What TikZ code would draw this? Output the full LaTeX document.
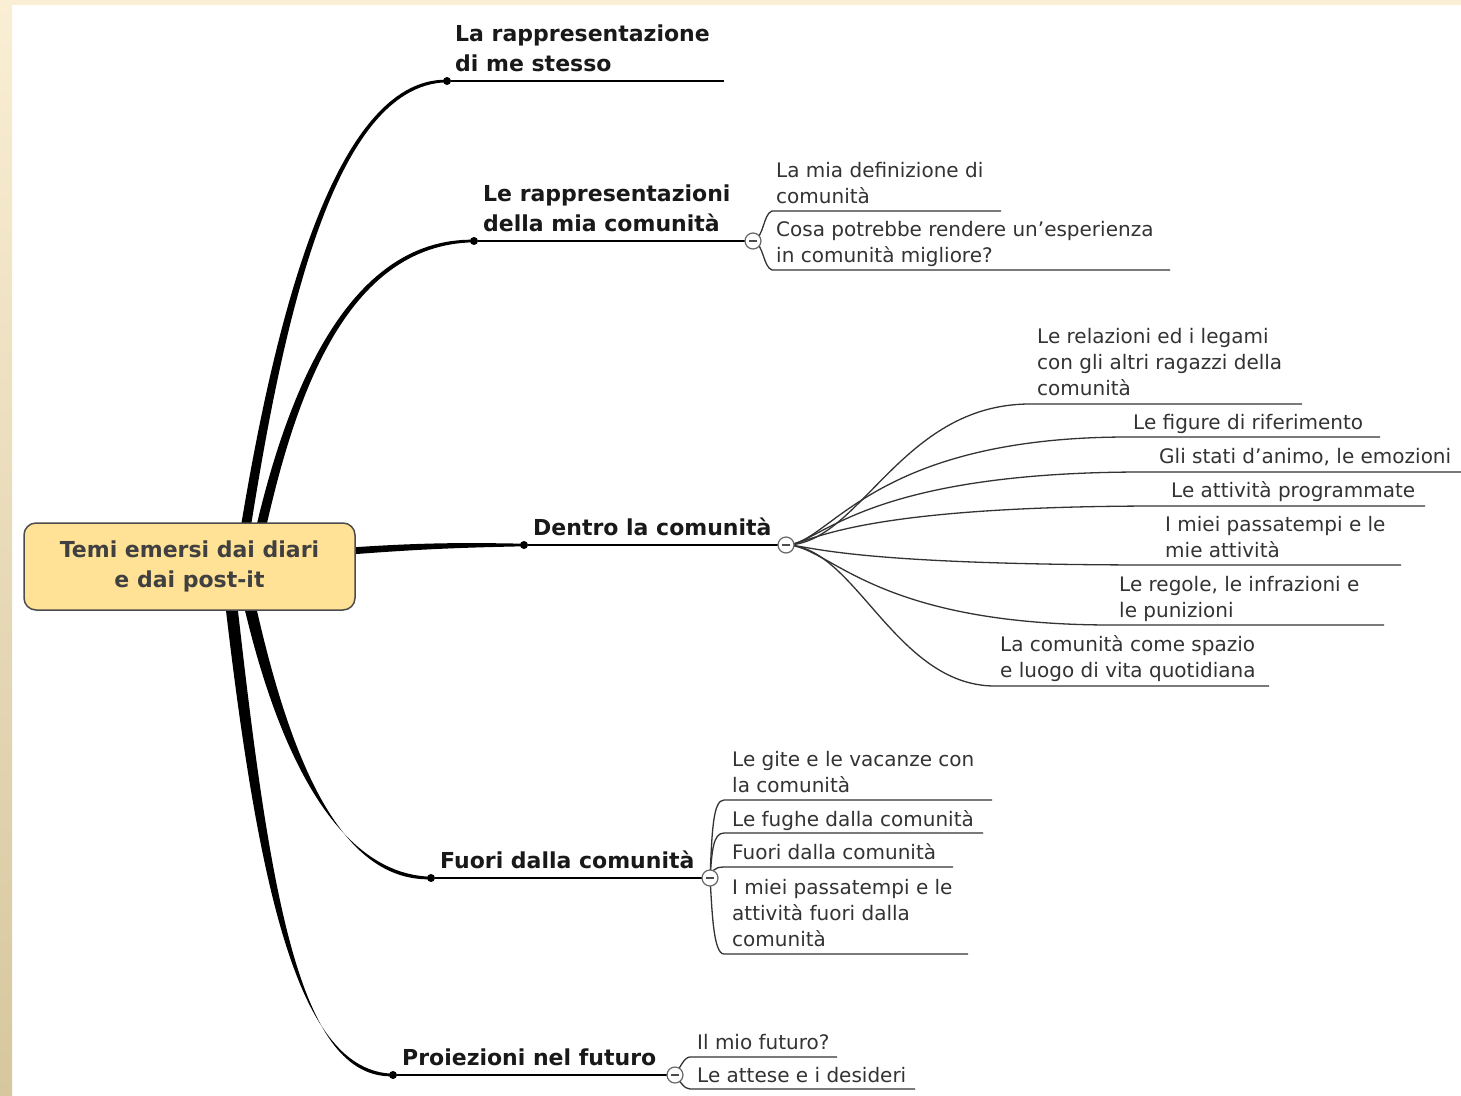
\documentclass[tikz,border=0pt]{standalone}
\usepackage{fontspec}
\setmainfont{DejaVu Sans}
\usetikzlibrary{calc}

\definecolor{paper}{RGB}{250,238,212}
\definecolor{paperdark}{RGB}{214,199,158}
\definecolor{rootfill}{RGB}{255,226,150}
\definecolor{inkgray}{RGB}{51,51,51}

\tikzset{
  root/.style={rectangle, rounded corners=12pt, draw=black!70, line width=1.5pt, fill=rootfill,
    minimum width=331pt, minimum height=87pt, align=center,
    font=\bfseries\fontsize{22}{30}\selectfont, text=black!75},
  topic/.style={anchor=south west, inner sep=0pt, text depth=0pt, align=left,
    font=\bfseries\fontsize{22}{30}\selectfont, text=black!90},
  subtopic/.style={anchor=south west, inner sep=0pt, text depth=0pt, align=left,
    font=\fontsize{20}{26}\selectfont, text=inkgray},
  underline/.style={line width=1.8pt, draw=black},
  twig/.style={line width=1.3pt, draw=inkgray},
  knob/.style={circle, fill=black, inner sep=0pt, minimum size=8pt},
  toggle/.style={circle, draw=black!60, fill=white, line width=1.2pt, inner sep=0pt, minimum size=16pt,
    path picture={\draw[line width=1.2pt, black!70] ([xshift=-4pt]path picture bounding box.center)
      -- ([xshift=4pt]path picture bounding box.center);}},
}

% tapered main branch: start, control 1, control 2, end, half width (x,y) at start
\newcommand{\limb}[6]{%
  \fill ($(#1)+(-#5,-#6)$) .. controls ($(#2)+(-#5*0.9,-#6*0.9)$) and ($(#3)+(0,-#5*0.45-#6*0.45-1)$) .. ($(#4)+(0,-1.3)$)
    -- ($(#4)+(0,1.3)$) .. controls ($(#3)+(0,#5*0.45+#6*0.45+1)$) and ($(#2)+(#5*0.9,#6*0.9)$) .. ($(#1)+(#5,#6)$) -- cycle;}

\begin{document}
\begin{tikzpicture}[x=1pt,y=-1pt]
  \useasboundingbox (0,0) rectangle (1461,1095);
  % page frame
  \fill[white] (0,0) rectangle (1461,1095);
  \shade[top color=paper, bottom color=paperdark] (0,0) rectangle (12,1095);
  \fill[paper] (0,0) rectangle (1461,5);

  % topic knobs
  \node[knob] (k1) at (447,81) {};
  \node[knob] (k2) at (474,241) {};
  \node[knob] (k3) at (524,545) {};
  \node[knob] (k4) at (431,878) {};
  \node[knob] (k5) at (393,1075) {};
  \coordinate (e1) at (724,81);

  % main branches
  \coordinate (s1) at (245,532);
  \coordinate (s2) at (260,532);
  \coordinate (s3) at (350,551);
  \coordinate (s4) at (249,602);
  \coordinate (s5) at (231,602);
  \limb{s1}{276,340}{330,81}{k1}{5}{0}
  \limb{s2}{290,400}{345,241}{k2}{5}{0}
  \limb{s3}{420,546}{460,545}{k3}{0}{3.5}
  \limb{s4}{285,760}{340,878}{k4}{6}{0}
  \limb{s5}{265,900}{300,1075}{k5}{6}{0}

  \node[root] (root) at (189.5,566.5) {Temi emersi dai diari\\e dai post-it};

  % topic underlines
  \draw[underline] (k1) -- (e1);
  \draw[underline] (k2) -- (753,241) coordinate (g2c);
  \draw[underline] (k3) -- (786,545) coordinate (g3c);
  \draw[underline] (k4) -- (710,878) coordinate (g4c);
  \draw[underline] (k5) -- (675,1075) coordinate (g5c);

  % children of topic 2
  \coordinate (a1s) at (772,211); \coordinate (a1e) at (1001,211);
  \coordinate (a2s) at (772,270); \coordinate (a2e) at (1170,270);
  \draw[twig] (g2c) .. controls (764,238) and (763,214) .. (a1s) -- (a1e);
  \draw[twig] (g2c) .. controls (764,244) and (763,267) .. (a2s) -- (a2e);

  % children of topic 3
  \coordinate (b1s) at (1030,404); \coordinate (b1e) at (1302,404);
  \coordinate (b2s) at (1128,437); \coordinate (b2e) at (1380,437);
  \coordinate (b3s) at (1143,472); \coordinate (b3e) at (1461,472);
  \coordinate (b4s) at (1160,506); \coordinate (b4e) at (1425,506);
  \coordinate (b5s) at (1158,565); \coordinate (b5e) at (1401,565);
  \coordinate (b6s) at (1112,625); \coordinate (b6e) at (1384,625);
  \coordinate (b7s) at (995,686);  \coordinate (b7e) at (1269,686);
  \draw[twig] (g3c) .. controls (860,545) and (900,404) .. (b1s) -- (b1e);
  \draw[twig] (g3c) .. controls (830,545) and (870,437) .. (b2s) -- (b2e);
  \draw[twig] (g3c) .. controls (820,545) and (860,472) .. (b3s) -- (b3e);
  \draw[twig] (g3c) .. controls (810,545) and (840,506) .. (b4s) -- (b4e);
  \draw[twig] (g3c) .. controls (810,545) and (840,565) .. (b5s) -- (b5e);
  \draw[twig] (g3c) .. controls (830,545) and (870,625) .. (b6s) -- (b6e);
  \draw[twig] (g3c) .. controls (855,545) and (895,686) .. (b7s) -- (b7e);

  % children of topic 4
  \coordinate (c1s) at (724,800); \coordinate (c1e) at (992,800);
  \coordinate (c2s) at (724,833); \coordinate (c2e) at (983,833);
  \coordinate (c3s) at (724,867); \coordinate (c3e) at (953,867);
  \coordinate (c4s) at (724,954); \coordinate (c4e) at (968,954);
  \draw[twig] (g4c) .. controls (712,831) and (713,800) .. (c1s) -- (c1e);
  \draw[twig] (g4c) .. controls (712,851) and (713,833) .. (c2s) -- (c2e);
  \draw[twig] (g4c) .. controls (712,872) and (713,867) .. (c3s) -- (c3e);
  \draw[twig] (g4c) .. controls (712,908) and (713,954) .. (c4s) -- (c4e);

  % children of topic 5
  \coordinate (d1s) at (690,1057); \coordinate (d1e) at (837,1057);
  \coordinate (d2s) at (690,1089); \coordinate (d2e) at (915,1089);
  \draw[twig] (g5c) .. controls (680,1068) and (684,1057) .. (d1s) -- (d1e);
  \draw[twig] (g5c) .. controls (680,1081) and (684,1089) .. (d2s) -- (d2e);

  \node[toggle] (g2) at (g2c) {};
  \node[toggle] (g3) at (g3c) {};
  \node[toggle] (g4) at (g4c) {};
  \node[toggle] (g5) at (g5c) {};

  % topic texts
  \node[topic] (t1) at (455,72) {La rappresentazione\\di me stesso};
  \node[topic] (t2) at (483,232) {Le rappresentazioni\\della mia comunità};
  \node[topic] (t3) at (533,536) {Dentro la comunità};
  \node[topic] (t4) at (440,869) {Fuori dalla comunità};
  \node[topic] (t5) at (402,1066) {Proiezioni nel futuro};

  % subtopic texts
  \node[subtopic] (a1) at (776,204) {La mia definizione di\\comunità};
  \node[subtopic] (a2) at (776,263) {Cosa potrebbe rendere un’esperienza\\in comunità migliore?};
  \node[subtopic] (b1) at (1037,396) {Le relazioni ed i legami\\con gli altri ragazzi della\\comunità};
  \node[subtopic] (b2) at (1133,430) {Le figure di riferimento};
  \node[subtopic] (b3) at (1159,464) {Gli stati d'animo, le emozioni};
  \node[subtopic] (b4) at (1171,498) {Le attività programmate};
  \node[subtopic] (b5) at (1165,558) {I miei passatempi e le\\mie attività};
  \node[subtopic] (b6) at (1119,618) {Le regole, le infrazioni e\\le punizioni};
  \node[subtopic] (b7) at (1000,678) {La comunità come spazio\\e luogo di vita quotidiana};
  \node[subtopic] (c1) at (732,793) {Le gite e le vacanze con\\la comunità};
  \node[subtopic] (c2) at (732,827) {Le fughe dalla comunità};
  \node[subtopic] (c3) at (732,860) {Fuori dalla comunità};
  \node[subtopic] (c4) at (732,947) {I miei passatempi e le\\attività fuori dalla\\comunità};
  \node[subtopic] (d1) at (697,1050) {Il mio futuro?};
  \node[subtopic] (d2) at (697,1083) {Le attese e i desideri};
\end{tikzpicture}
\end{document}
